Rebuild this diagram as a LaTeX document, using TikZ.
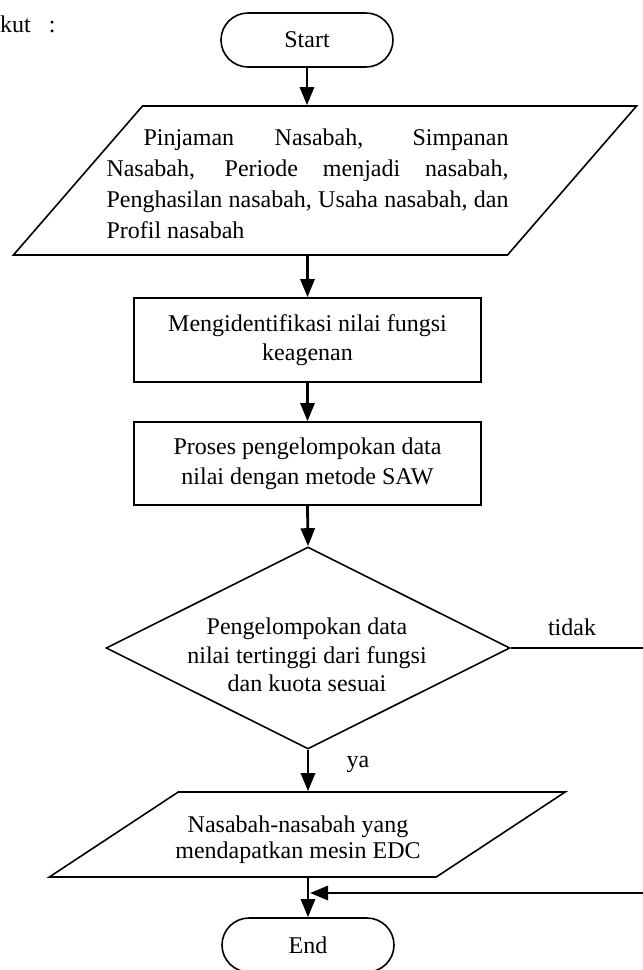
\documentclass[tikz,border=0pt]{standalone}
\usepackage{fontspec}
\setmainfont{Liberation Serif}
\usepackage{tikz}
\usetikzlibrary{positioning,shapes.geometric,arrows.meta}
\hyphenpenalty=10000
\exhyphenpenalty=10000

\begin{document}
\begin{tikzpicture}[x=1pt, y=-1pt,
    terminal/.style={rectangle, rounded corners=27pt, draw=black, line width=1.6pt, minimum width=172pt, minimum height=54pt, inner sep=0pt},
    process/.style={rectangle, draw=black, line width=1.6pt, minimum width=347pt, minimum height=84pt, align=center, inner sep=0pt},
    io/.style={trapezium, draw=black, line width=1.6pt},
    decision/.style={diamond, draw=black, line width=1.6pt, minimum width=404pt, minimum height=202pt, inner sep=2pt},
    arr/.style={line width=2.8pt, -{Triangle[length=18pt, width=14pt]}},
    link/.style={line width=1.6pt},
    every node/.style={font=\fontsize{24}{29}\selectfont}]
            \useasboundingbox (0,0) rectangle (643,970);

            \node[anchor=base west, inner sep=0pt] (intro) at (0,32) {kut\hspace{18pt}:};

            \node[terminal](start) at (307, 40) {Start};

            \node[io, trapezium left angle=49.1, trapezium right angle=130.9, inner xsep=182.5pt, inner ysep=74.5pt](in1) at (325, 180.5) {};
            \node[text width=402pt, align=justify, inner sep=0pt, font=\fontsize{24}{31}\selectfont](in1text) at (307.5, 183.3) {\hspace*{37pt}Pinjaman Nasabah, Simpanan Nasabah, Periode menjadi nasabah, Penghasilan nasabah, Usaha nasabah, dan Profil nasabah};

            \node[process](act1) at (307.5, 340) {Mengidentifikasi nilai fungsi\\keagenan};
            \node[process, minimum height=83pt, font=\fontsize{24}{30}\selectfont](act2) at (307.5, 463.5) {Proses pengelompokan data\\nilai dengan metode SAW};

            \node[decision](dec) at (308, 648) {};
            \node[align=center, inner sep=0pt, font=\fontsize{24}{28.5}\selectfont](dectext) at (307, 655) {Pengelompokan data\\nilai tertinggi dari fungsi\\dan kuota sesuai};
            \node[] (no) at (572, 627) {tidak};
            \node[] (yes) at (358, 764) {ya};

            \node[io, trapezium left angle=33.4, trapezium right angle=146.6, inner xsep=129pt, inner ysep=42.5pt](out1) at (307.25, 834.5) {};
            \node[align=center, inner sep=0pt, font=\fontsize{24}{26}\selectfont](out1text) at (298, 839.4) {Nasabah-nasabah yang\\mendapatkan mesin EDC};

            \node[terminal](stop) at (308, 945) {End};

            \coordinate (loopA) at (643, 648);
            \coordinate (loopB) at (643, 893);

            \draw[arr] (start.south) to (start.south |- in1.north);
            \draw[arr] (act1.north |- in1.south) to (act1.north);
            \draw[arr] (act1.south) to (act2.north);
            \draw[arr] (act2.south) to (dec.north);
            \draw[arr] (dec.south) to (dec.south |- out1.north);
            \draw[arr] (stop.north |- out1.south) to (stop.north);

            \draw[link] (dec.east) to (loopA);
            \draw[arr, shorten >=2pt] (loopB) to (loopB -| stop.north);
        \end{tikzpicture}
\end{document}
